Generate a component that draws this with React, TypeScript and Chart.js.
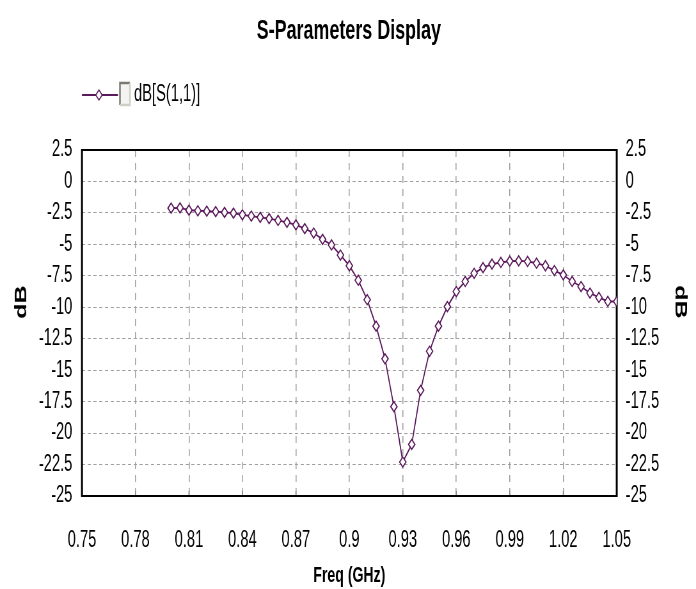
import { useEffect, useRef } from "react";
import { Chart, registerables } from "chart.js";

Chart.register(...registerables);

// The reference picture is horizontally compressed; draw on a wider canvas
// and display it squeezed to the 696px width.
const VIEW_W = 696;
const VIEW_H = 589;
const SQUEEZE = 0.64;
const CANVAS_W = Math.round(VIEW_W / SQUEEZE);
const X = (v: number) => v / SQUEEZE; // display px -> canvas px (horizontal)

const FONT = "'Liberation Sans', Arial, 'DejaVu Sans', sans-serif";
const PURPLE = "#5c1a5c";
const GRID = "#a0a0a0";

const titleText = "S-Parameters Display";
const seriesName = "dB[S(1,1)]";
const xTitle = "Freq (GHz)";
const yTitle = "dB";

const freqGHz = [
  0.8, 0.805, 0.81, 0.815, 0.82, 0.825, 0.83, 0.835, 0.84, 0.845,
  0.85, 0.855, 0.86, 0.865, 0.87, 0.875, 0.88, 0.885, 0.89, 0.895,
  0.9, 0.905, 0.91, 0.915, 0.92, 0.925, 0.93, 0.935, 0.94, 0.945,
  0.95, 0.955, 0.96, 0.965, 0.97, 0.975, 0.98, 0.985, 0.99, 0.995,
  1.0, 1.005, 1.01, 1.015, 1.02, 1.025, 1.03, 1.035, 1.04, 1.045,
  1.05,
];

const s11dB = [
  -2.12, -2.1, -2.28, -2.33, -2.36, -2.4, -2.46, -2.52, -2.65, -2.75,
  -2.85, -2.95, -3.1, -3.25, -3.45, -3.75, -4.1, -4.6, -5.05, -5.85,
  -6.7, -7.85, -9.4, -11.5, -14.1, -17.9, -22.3, -20.9, -16.6, -13.5,
  -11.5, -9.95, -8.75, -7.95, -7.3, -6.85, -6.57, -6.44, -6.33, -6.31,
  -6.36, -6.5, -6.7, -7.08, -7.42, -7.95, -8.35, -8.87, -9.22, -9.54,
  -9.54,
];

const xTicks = [0.75, 0.78, 0.81, 0.84, 0.87, 0.9, 0.93, 0.96, 0.99, 1.02, 1.05];
const yTicks = [2.5, 0, -2.5, -5, -7.5, -10, -12.5, -15, -17.5, -20, -22.5, -25];

const decorPlugin = {
  id: "decor",
  beforeDatasetsDraw(chart: any) {
    const { ctx, chartArea: a, scales } = chart;
    ctx.save();
    // small tick notches on the bottom border
    ctx.strokeStyle = "#888";
    ctx.lineWidth = 1.5;
    xTicks.forEach((v) => {
      const px = scales.x.getPixelForValue(v);
      ctx.beginPath();
      ctx.moveTo(px, a.bottom);
      ctx.lineTo(px, a.bottom - 5);
      ctx.stroke();
    });
    // frame
    ctx.strokeStyle = "#000";
    ctx.lineWidth = 2;
    ctx.beginPath();
    ctx.moveTo(a.left, a.top);
    ctx.lineTo(a.right, a.top);
    ctx.moveTo(a.left, a.bottom);
    ctx.lineTo(a.right, a.bottom);
    ctx.stroke();
    ctx.lineWidth = 3;
    ctx.beginPath();
    ctx.moveTo(a.left, a.top - 1);
    ctx.lineTo(a.left, a.bottom + 1);
    ctx.moveTo(a.right, a.top - 1);
    ctx.lineTo(a.right, a.bottom + 1);
    ctx.stroke();
    ctx.restore();
  },
  afterDraw(chart: any) {
    const { ctx } = chart;
    ctx.save();
    // title
    ctx.fillStyle = "#000";
    ctx.font = `bold 28px ${FONT}`;
    ctx.textAlign = "center";
    ctx.textBaseline = "middle";
    ctx.fillText(titleText, X(349), 31);
    // y axis titles
    ctx.font = `bold 25px ${FONT}`;
    ctx.save();
    ctx.translate(X(22), 302);
    ctx.rotate(-Math.PI / 2);
    ctx.fillText(yTitle, 0, 0);
    ctx.restore();
    ctx.save();
    ctx.translate(X(680), 302);
    ctx.rotate(Math.PI / 2);
    ctx.fillText(yTitle, 0, 0);
    ctx.restore();
    // legend line + marker
    ctx.strokeStyle = PURPLE;
    ctx.lineWidth = 2;
    ctx.beginPath();
    ctx.moveTo(X(82), 95);
    ctx.lineTo(X(118), 95);
    ctx.stroke();
    const cx = X(99);
    ctx.beginPath();
    ctx.moveTo(cx, 90);
    ctx.lineTo(cx + 5, 95);
    ctx.lineTo(cx, 100);
    ctx.lineTo(cx - 5, 95);
    ctx.closePath();
    ctx.fillStyle = "#fff";
    ctx.fill();
    ctx.lineWidth = 1.5;
    ctx.stroke();
    // checkbox
    const bl = X(120);
    const br = X(130);
    ctx.fillStyle = "#f4f4f2";
    ctx.fillRect(bl, 83, br - bl, 22);
    ctx.lineWidth = 2.5;
    ctx.strokeStyle = "#7a7a70";
    ctx.beginPath();
    ctx.moveTo(bl, 105);
    ctx.lineTo(bl, 83);
    ctx.lineTo(br, 83);
    ctx.stroke();
    ctx.strokeStyle = "#d0d0c8";
    ctx.beginPath();
    ctx.moveTo(br, 83);
    ctx.lineTo(br, 105);
    ctx.lineTo(bl, 105);
    ctx.stroke();
    // legend text
    ctx.fillStyle = "#000";
    ctx.font = `23px ${FONT}`;
    ctx.textAlign = "left";
    ctx.textBaseline = "middle";
    ctx.fillText(seriesName, X(134), 95);
    ctx.restore();
  },
};

export default function App() {
  const ref = useRef<HTMLCanvasElement | null>(null);

  useEffect(() => {
    document.body.style.margin = "0";
    const canvas = ref.current;
    if (!canvas) return;
    const tickFont = { family: FONT, size: 23 };
    const xTitleFont = { family: FONT, size: 22, weight: "bold" as const };
    const tickCb = (v: any) => String(Number(v));
    const chartLeft = X(82);
    const chartRight = X(617);
    const chart = new Chart(canvas, {
      type: "line",
      data: {
        datasets: [
          {
            label: seriesName,
            data: freqGHz.map((x, i) => ({ x, y: s11dB[i] })),
            borderColor: PURPLE,
            borderWidth: 1.8,
            pointStyle: "rectRot",
            pointRadius: 5,
            pointBackgroundColor: "#fff",
            pointBorderColor: PURPLE,
            pointBorderWidth: 1.6,
            tension: 0,
          },
        ],
      },
      options: {
        responsive: false,
        animation: false,
        devicePixelRatio: 1,
        layout: { padding: { top: 150, left: 0, right: 0, bottom: 0 } },
        plugins: {
          legend: { display: false },
          title: { display: false },
          tooltip: { enabled: false },
        },
        scales: {
          x: {
            type: "linear",
            min: 0.75,
            max: 1.05,
            afterBuildTicks: (s: any) => {
              s.ticks = xTicks.map((value) => ({ value }));
            },
            afterFit: (s: any) => {
              s.height = VIEW_H - 496;
            },
            ticks: {
              callback: tickCb,
              font: tickFont,
              color: "#000",
              padding: 31,
              maxRotation: 0,
              autoSkip: false,
            },
            grid: { color: GRID, drawTicks: false, lineWidth: 1.6 },
            border: { display: false, dash: [7, 6] },
            title: {
              display: true,
              text: xTitle,
              font: xTitleFont,
              color: "#000",
              padding: { top: 0, bottom: 0 },
            },
          },
          y: {
            position: "left",
            min: -25,
            max: 2.5,
            afterBuildTicks: (s: any) => {
              s.ticks = yTicks.map((value) => ({ value }));
            },
            afterFit: (s: any) => {
              s.width = chartLeft;
            },
            ticks: { callback: tickCb, font: tickFont, color: "#000", padding: 15, autoSkip: false },
            grid: { color: GRID, drawTicks: false, lineWidth: 1 },
            border: { display: false, dash: [5, 4] },
            title: { display: false },
          },
          y2: {
            position: "right",
            min: -25,
            max: 2.5,
            afterBuildTicks: (s: any) => {
              s.ticks = yTicks.map((value) => ({ value }));
            },
            afterFit: (s: any) => {
              s.width = CANVAS_W - chartRight;
            },
            ticks: { callback: tickCb, font: tickFont, color: "#000", padding: 14, autoSkip: false },
            grid: { display: false, drawTicks: false },
            border: { display: false },
            title: { display: false },
          },
        },
      },
      plugins: [decorPlugin],
    } as any);
    return () => chart.destroy();
  }, []);

  return (
    <div style={{ width: VIEW_W, height: VIEW_H }}>
      <canvas
        ref={ref}
        width={CANVAS_W}
        height={VIEW_H}
        style={{ display: "block", width: `${VIEW_W}px`, height: `${VIEW_H}px` }}
      />
    </div>
  );
}
